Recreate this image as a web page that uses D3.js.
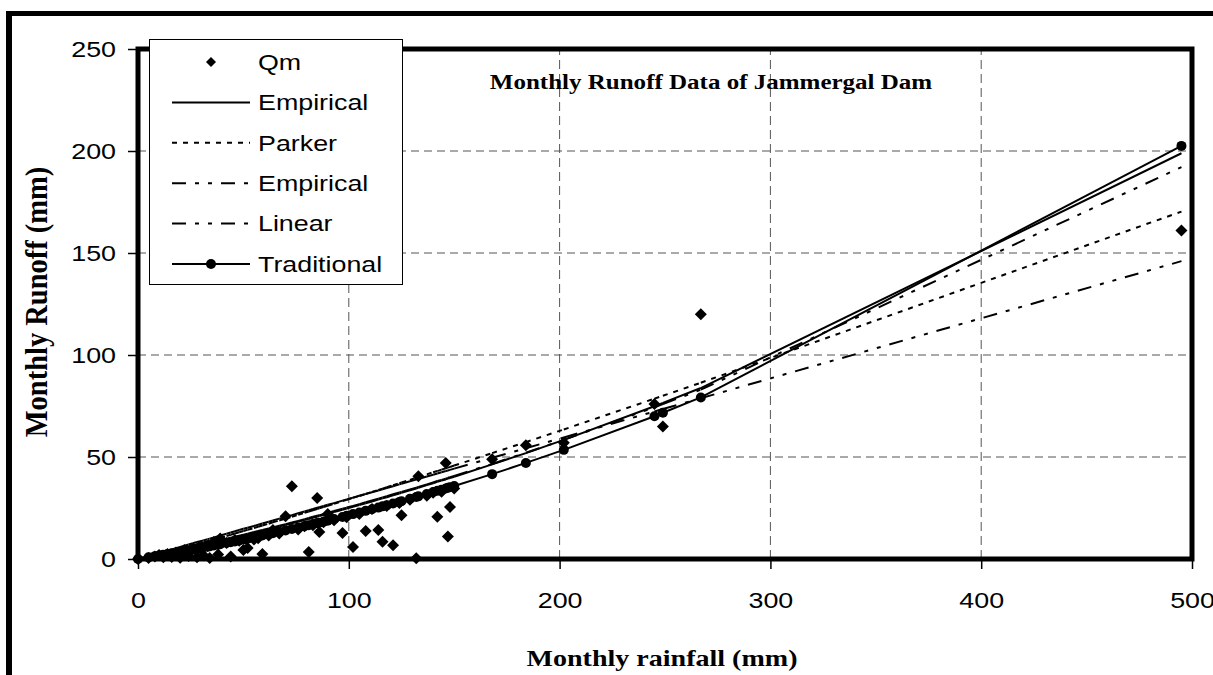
<!DOCTYPE html>
<html>
<head>
<meta charset="utf-8">
<script src="https://cdn.jsdelivr.net/npm/d3@7"></script>
<style>
  body { margin: 0; background: #fff; }
</style>
</head>
<body>
<div id="chart"></div>
<script>
// monthly rainfall (mm) of each record, sorted
var rainfall = [0,5,8,10,12,14,16,18,20,22,24,26,28,29,31,33,34,36,38,39,42,44,46,48,50,52,55,57,59,62,64,67,70,73,76,79,81,83,85,86,88,90,93,97,99,102,105,108,111,114,116,118,121,124,125,129,132,133,137,140,142,144,146,147,148,150,168,184,202,245,249,267,495];

// measured runoff
var qm = [0,0.5,1.2,2.0,0.8,2.5,1.0,3.2,0.6,4.4,1.5,4.9,0.9,5.9,1.8,6.4,0.5,8.3,2.2,10.0,7.8,1.2,9.3,9.0,4.4,5.4,9.5,10.2,2.4,11.5,14.2,12.5,21.0,35.7,14.5,16.0,3.4,16.5,29.9,13.2,18.0,22.0,19.0,12.7,20.5,5.9,22.0,13.7,24.5,14.2,8.4,26.0,6.8,27.5,21.5,29.0,0.4,40.6,31.0,32.5,20.7,33.0,47.0,11.0,25.5,34.5,48.9,55.7,57.0,76.0,65.0,120.0,161.0];

// model runoff at the same rainfall values
var empirical = [0,1.1,1.7,2.2,2.6,3.0,3.5,3.9,4.4,4.8,5.3,5.8,6.2,6.5,6.9,7.4,7.6,8.1,8.6,8.8,9.6,10.0,10.5,11.0,11.5,12.0,12.8,13.3,13.8,14.6,15.1,15.9,16.7,17.5,18.3,19.1,19.6,20.2,20.7,21.0,21.6,22.1,23.0,24.1,24.7,25.6,26.4,27.3,28.2,29.1,29.7,30.3,31.2,32.1,32.4,33.7,34.6,34.9,36.2,37.1,37.8,38.4,39.0,39.4,39.7,40.3,46.4,51.9,58.4,74.9,76.5,83.8,198.9];
var parker = [0,1.1,1.8,2.3,2.9,3.4,3.9,4.5,5.0,5.5,6.1,6.7,7.2,7.5,8.1,8.7,9.0,9.5,10.1,10.4,11.3,11.9,12.5,13.1,13.7,14.3,15.2,15.8,16.4,17.3,18.0,18.9,19.8,20.7,21.7,22.6,23.3,23.9,24.5,24.8,25.5,26.1,27.1,28.4,29.0,30.0,30.9,31.9,32.9,33.9,34.5,35.2,36.2,37.2,37.5,38.8,39.8,40.1,41.5,42.5,43.1,43.8,44.5,44.8,45.1,45.8,51.9,57.3,63.5,78.6,80.0,86.4,170.3];
var empirical2 = [0,1.1,1.8,2.2,2.7,3.2,3.6,4.1,4.6,5.0,5.5,6.0,6.4,6.7,7.2,7.7,7.9,8.4,8.9,9.1,9.9,10.4,10.9,11.4,11.9,12.4,13.2,13.7,14.2,15.0,15.5,16.3,17.1,17.9,18.7,19.5,20.1,20.7,21.2,21.5,22.0,22.6,23.5,24.6,25.2,26.0,26.9,27.8,28.7,29.6,30.2,30.8,31.7,32.6,32.9,34.1,35.0,35.3,36.6,37.5,38.2,38.8,39.4,39.8,40.1,40.7,46.6,52.1,58.4,74.4,75.9,83.0,192.1];
var linear = [0,1.5,2.4,3.0,3.5,4.1,4.7,5.3,5.9,6.5,7.1,7.7,8.3,8.6,9.1,9.7,10.0,10.6,11.2,11.5,12.4,13.0,13.6,14.2,14.8,15.3,16.2,16.8,17.4,18.3,18.9,19.8,20.7,21.5,22.4,23.3,23.9,24.5,25.1,25.4,26.0,26.6,27.4,28.6,29.2,30.1,31.0,31.9,32.7,33.6,34.2,34.8,35.7,36.6,36.9,38.1,38.9,39.2,40.4,41.3,41.9,42.5,43.1,43.4,43.7,44.3,49.6,54.3,59.6,72.3,73.5,78.8,146.0];
var traditional = [0,0.8,1.4,1.7,2.1,2.4,2.8,3.1,3.5,3.9,4.2,4.6,5.0,5.2,5.6,6.0,6.2,6.6,7.0,7.2,7.8,8.2,8.6,9.1,9.5,9.9,10.6,11.0,11.5,12.1,12.6,13.3,14.0,14.7,15.4,16.1,16.6,17.1,17.6,17.8,18.3,18.8,19.6,20.6,21.2,22.0,22.8,23.6,24.4,25.2,25.8,26.3,27.2,28.0,28.3,29.5,30.4,30.7,31.9,32.8,33.4,34.0,34.6,34.9,35.2,35.8,41.6,47.1,53.5,70.0,71.7,79.2,202.5];

var xTicks = [0, 100, 200, 300, 400, 500];
var yTicks = [0, 50, 100, 150, 200, 250];
var legendNames = ["Qm", "Empirical", "Parker", "Empirical", "Linear", "Traditional"];

var width = 1213, height = 675;
var sx = 1.22; // the original picture is stretched sideways
var sans = "'Liberation Sans', Arial, sans-serif";
var serif = "'Liberation Serif', 'Times New Roman', serif";
var longDash = "14,9,4,9,4,9";
var shortDash = "5,6";

var svg = d3.select("#chart")
            .append("svg")
                .attr("width", width)
                .attr("height", height);

var x = d3.scaleLinear().domain([0, 500]).range([138, 1192]);
var y = d3.scaleLinear().domain([0, 250]).range([559, 49]);

// outer chart border, only top and left show
svg.append("line").attr("x1", 6).attr("x2", width).attr("y1", 13.5).attr("y2", 13.5)
   .attr("stroke", "#000").attr("stroke-width", 5);
svg.append("line").attr("x1", 9).attr("x2", 9).attr("y1", 11).attr("y2", height)
   .attr("stroke", "#000").attr("stroke-width", 6);

// grid
svg.append("g").selectAll("line").data(yTicks.slice(1, -1)).join("line")
   .attr("x1", x(0)).attr("x2", x(500))
   .attr("y1", d => y(d)).attr("y2", d => y(d))
   .attr("stroke", "#555").attr("stroke-width", 1).attr("stroke-dasharray", "8,5");
svg.append("g").selectAll("line").data(xTicks.slice(1, -1)).join("line")
   .attr("x1", d => x(d)).attr("x2", d => x(d))
   .attr("y1", y(0)).attr("y2", y(250))
   .attr("stroke", "#555").attr("stroke-width", 1).attr("stroke-dasharray", "9,5");

// axes
var yAxis = svg.append("g")
   .attr("transform", "translate(" + x(0) + ",0)")
   .call(d3.axisLeft(y).tickValues(yTicks).tickSize(10).tickPadding(12));
var xAxis = svg.append("g")
   .attr("transform", "translate(0," + y(0) + ")")
   .call(d3.axisBottom(x).tickValues(xTicks).tickSize(10).tickPadding(23));

[yAxis, xAxis].forEach(function(a) {
    a.select(".domain").remove();
    a.selectAll(".tick line").attr("stroke", "#000").attr("stroke-width", 1.5);
    a.selectAll(".tick text").attr("fill", "#000")
     .style("font-family", sans).style("font-size", "22px");
});
yAxis.selectAll(".tick text")
     .attr("transform", "translate(-22,0) scale(" + sx + ",1) translate(22,0)");
xAxis.selectAll(".tick text")
     .attr("transform", "scale(" + sx + ",1)");

// plot frame
svg.append("rect")
   .attr("x", x(0)).attr("y", y(250))
   .attr("width", x(500) - x(0)).attr("height", y(0) - y(250))
   .attr("fill", "none").attr("stroke", "#000").attr("stroke-width", 5);

function pointsOf(values) {
    return rainfall.map(function(r, i) { return [x(r), y(values[i])]; });
}

// excel restarts the dash pattern on every segment, so draw segments one by one
function drawSeries(values, dash) {
    svg.append("g").selectAll("line").data(d3.pairs(pointsOf(values))).join("line")
       .attr("x1", d => d[0][0]).attr("y1", d => d[0][1])
       .attr("x2", d => d[1][0]).attr("y2", d => d[1][1])
       .attr("stroke", "#000").attr("stroke-width", 2)
       .attr("stroke-dasharray", dash);
}

var diamond = d3.symbol(d3.symbolSquare, 72);

// Qm markers
svg.append("g").selectAll("path").data(pointsOf(qm)).join("path")
   .attr("d", diamond)
   .attr("transform", d => "translate(" + d[0] + "," + d[1] + ") rotate(45)")
   .attr("fill", "#000");

drawSeries(empirical, null);
drawSeries(parker, shortDash);
drawSeries(empirical2, longDash);
drawSeries(linear, longDash);
drawSeries(traditional, null);

svg.append("g").selectAll("circle").data(pointsOf(traditional)).join("circle")
   .attr("cx", d => d[0]).attr("cy", d => d[1]).attr("r", 5)
   .attr("fill", "#000");

// legend
var legend = svg.append("g");
legend.append("rect")
      .attr("x", 149.5).attr("y", 39.5).attr("width", 253).attr("height", 245)
      .attr("fill", "#fff").attr("stroke", "#000").attr("stroke-width", 1);

var legendDash = [null, null, shortDash, longDash, longDash, null];
legendNames.forEach(function(name, i) {
    var cy = 62 + i * 40.4;
    if (i > 0) {
        legend.append("line")
              .attr("x1", 172).attr("x2", 250).attr("y1", cy).attr("y2", cy)
              .attr("stroke", "#000").attr("stroke-width", 2)
              .attr("stroke-dasharray", legendDash[i]);
    }
    if (i == 0) {
        legend.append("path").attr("d", d3.symbol(d3.symbolSquare, 50))
              .attr("transform", "translate(211," + cy + ") rotate(45)")
              .attr("fill", "#000");
    }
    if (i == 5) {
        legend.append("circle").attr("cx", 211).attr("cy", cy).attr("r", 5).attr("fill", "#000");
    }
    legend.append("text")
          .attr("transform", "translate(258," + cy + ") scale(" + sx + ",1)")
          .attr("dy", "0.35em")
          .style("font-family", sans).style("font-size", "22px")
          .text(name);
});

// title and axis names
svg.append("text")
   .attr("transform", "translate(711,89) scale(" + sx + ",1)")
   .attr("text-anchor", "middle")
   .style("font-family", serif).style("font-weight", "bold").style("font-size", "20.5px")
   .text("Monthly Runoff Data of Jammergal Dam");

svg.append("text")
   .attr("transform", "translate(662,666) scale(" + sx + ",1)")
   .attr("text-anchor", "middle")
   .style("font-family", serif).style("font-weight", "bold").style("font-size", "23px")
   .text("Monthly rainfall (mm)");

svg.append("text")
   .attr("transform", "translate(47,302) scale(1.1,1) rotate(-90)")
   .attr("text-anchor", "middle")
   .style("font-family", serif).style("font-weight", "bold").style("font-size", "28.5px")
   .text("Monthly Runoff (mm)");
</script>
</body>
</html>
